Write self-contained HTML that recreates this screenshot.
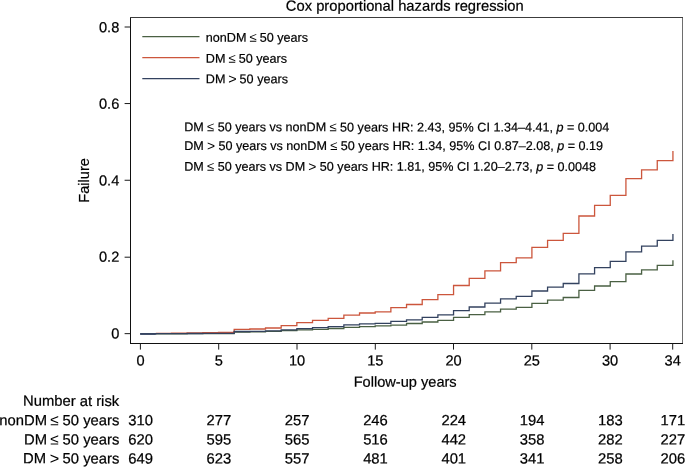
<!DOCTYPE html>
<html lang="en"><head><meta charset="utf-8"><title>Cox proportional hazards regression</title>
<style>
html,body{margin:0;padding:0;background:#fff;}
body{width:685px;height:467px;overflow:hidden;}
svg{display:block;}
text{font-family:"Liberation Sans",Arial,Helvetica,sans-serif;fill:#000;stroke:#000;stroke-width:0.22px;}
.t{font-size:14.6px;}
.tt{font-size:14.75px;}
.s{font-size:12.6px;stroke-width:0.2px;}
.l{font-size:12.62px;stroke-width:0.2px;}
.r{font-size:14.8px;}
.ax{stroke-width:1;fill:none;}
.tk{stroke:#1a1a1a;stroke-width:1;fill:none;}
.c{fill:none;stroke-width:1.3;stroke-linejoin:miter;}
.le{stroke:none;}
</style></head><body>
<svg width="685" height="467" viewBox="0 0 685 467">
<rect x="0" y="0" width="685" height="467" fill="#fff"/>
<g transform="translate(404.70 10.80) matrix(1 0.0005 0 1 0 0)"><text class="tt" text-anchor="middle">Cox proportional hazards regression</text></g>
<path class="ax" stroke="#3c3c3c" d="M130.0 17.5H683.0"/>
<path class="ax" stroke="#6e6e6e" d="M682.5 18.0V343.0"/>
<path class="ax" stroke="#111" d="M130.5 18.0V344.0"/>
<path class="ax" stroke="#111" d="M130.0 343.5H683.0"/>
<path class="tk" d="M124.6 333.65H130.5"/>
<g transform="translate(119.30 338.45) matrix(1 0.0005 0 1 0 0)"><text class="t" text-anchor="end">0</text></g>
<path class="tk" d="M124.6 257.20H130.5"/>
<g transform="translate(119.30 261.70) matrix(1 0.0005 0 1 0 0)"><text class="t" text-anchor="end">0.2</text></g>
<path class="tk" d="M124.6 180.25H130.5"/>
<g transform="translate(119.30 185.40) matrix(1 0.0005 0 1 0 0)"><text class="t" text-anchor="end">0.4</text></g>
<path class="tk" d="M124.6 103.55H130.5"/>
<g transform="translate(119.30 108.70) matrix(1 0.0005 0 1 0 0)"><text class="t" text-anchor="end">0.6</text></g>
<path class="tk" d="M124.6 27.00H130.5"/>
<g transform="translate(119.30 32.30) matrix(1 0.0005 0 1 0 0)"><text class="t" text-anchor="end">0.8</text></g>
<path class="tk" d="M140.4 343.5V349.6"/>
<g transform="translate(140.45 365.60) matrix(1 0.0005 0 1 0 0)"><text class="t" text-anchor="middle">0</text></g>
<path class="tk" d="M218.7 343.5V349.6"/>
<g transform="translate(218.72 365.60) matrix(1 0.0005 0 1 0 0)"><text class="t" text-anchor="middle">5</text></g>
<path class="tk" d="M297.0 343.5V349.6"/>
<g transform="translate(297.00 365.60) matrix(1 0.0005 0 1 0 0)"><text class="t" text-anchor="middle">10</text></g>
<path class="tk" d="M375.3 343.5V349.6"/>
<g transform="translate(375.27 365.60) matrix(1 0.0005 0 1 0 0)"><text class="t" text-anchor="middle">15</text></g>
<path class="tk" d="M453.5 343.5V349.6"/>
<g transform="translate(453.55 365.60) matrix(1 0.0005 0 1 0 0)"><text class="t" text-anchor="middle">20</text></g>
<path class="tk" d="M531.8 343.5V349.6"/>
<g transform="translate(531.83 365.60) matrix(1 0.0005 0 1 0 0)"><text class="t" text-anchor="middle">25</text></g>
<path class="tk" d="M610.1 343.5V349.6"/>
<g transform="translate(610.10 365.60) matrix(1 0.0005 0 1 0 0)"><text class="t" text-anchor="middle">30</text></g>
<path class="tk" d="M672.7 343.5V349.6"/>
<g transform="translate(672.72 365.60) matrix(1 0.0005 0 1 0 0)"><text class="t" text-anchor="middle">34</text></g>
<g transform="translate(405.15 386.70) matrix(1 0.0005 0 1 0 0)"><text class="t" text-anchor="middle">Follow-up years</text></g>
<text class="t" transform="translate(88.7 180.4) rotate(-90) scale(1 1.035)" text-anchor="middle">Failure</text>
<path class="c" stroke="#4a6043" d="M155.82 333.90V333.90H171.49V333.80H187.16V333.70H202.83V333.60H218.50V333.50H234.17V332.00H249.84V331.90H265.51V331.40H281.18V330.60H296.85V329.90H312.52V329.30H328.19V328.50H343.86V327.30H359.53V326.70H375.20V325.90H390.87V325.10H406.54V323.50H422.21V322.00H437.88V320.30H453.55V317.30H469.22V314.70H484.89V311.90H500.56V309.10H516.23V307.30H531.90V303.30H547.57V300.20H563.24V297.50H578.91V290.30H594.58V286.00H610.25V281.60H625.92V274.00H641.59V269.80H657.26V265.40H672.93V260.30"/>
<path class="c" stroke="#cc563c" d="M155.82 333.40V333.40H171.49V333.10H187.16V332.80H202.83V332.60H218.50V332.40H234.17V329.30H249.84V329.00H265.51V328.00H281.18V325.60H296.85V322.60H312.52V320.30H328.19V318.40H343.86V315.20H359.53V313.00H375.20V311.80H390.87V307.70H406.54V304.50H422.21V299.60H437.88V294.60H453.55V285.50H469.22V278.30H484.89V270.80H500.56V262.60H516.23V257.90H531.90V247.30H547.57V240.40H563.24V233.40H578.91V216.00H594.58V205.30H610.25V195.30H625.92V178.70H641.59V169.90H657.26V160.70H672.93V151.00"/>
<path class="c" stroke="#33425f" d="M140.15 333.90V333.90H155.82V333.70H171.49V333.60H187.16V333.50H202.83V333.40H218.50V333.30H234.17V331.50H249.84V331.40H265.51V330.80H281.18V329.90H296.85V328.70H312.52V327.60H328.19V326.60H343.86V324.80H359.53V323.80H375.20V323.30H390.87V321.30H406.54V319.90H422.21V317.40H437.88V314.90H453.55V310.70H469.22V307.00H484.89V303.20H500.56V298.90H516.23V296.30H531.90V291.00H547.57V287.20H563.24V283.50H578.91V273.80H594.58V267.70H610.25V261.40H625.92V251.80H641.59V246.10H657.26V240.40H672.93V233.90"/>
<path class="c" stroke="#33425f" style="stroke-width:1.8" d="M140.15 333.95H155.82"/>
<path class="c" stroke="#4a6043" d="M142.3 36.7H199.5"/>
<g transform="translate(205.80 41.65) matrix(1 0.0005 0 1 0 0)"><text class="l">nonDM <tspan class="le" dx="-0.50" font-size="104%">≤</tspan><tspan dx="-0.50"> </tspan>50 years</text></g>
<path class="c" stroke="#cc563c" d="M142.3 57.7H199.5"/>
<g transform="translate(205.80 62.65) matrix(1 0.0005 0 1 0 0)"><text class="l">DM <tspan class="le" dx="-0.50" font-size="104%">≤</tspan><tspan dx="-0.50"> </tspan>50 years</text></g>
<path class="c" stroke="#33425f" d="M142.3 78.6H199.5"/>
<g transform="translate(205.80 83.20) matrix(1 0.0005 0 1 0 0)"><text class="l">DM <tspan class="le" dx="-0.70" dy="0.50" font-size="114%">&gt;</tspan><tspan dx="-0.55" dy="-0.50"> </tspan>50 years</text></g>
<g transform="translate(184.20 131.30) matrix(1 0.0005 0 1 0 0)"><text class="s">DM <tspan class="le" dx="-0.20" font-size="104%">≤</tspan><tspan dx="-0.08"> </tspan>50 years vs nonDM <tspan class="le" dx="-0.20" font-size="104%">≤</tspan><tspan dx="-0.08"> </tspan>50 years HR: 2.43, 95% CI 1.34–4.41, <tspan font-style="italic">p</tspan> = 0.004</text></g>
<g transform="translate(184.20 149.90) matrix(1 0.0005 0 1 0 0)"><text class="s">DM <tspan class="le" dx="-0.34" dy="0.50" font-size="110%">&gt;</tspan><tspan dx="-0.10" dy="-0.50"> </tspan>50 years vs nonDM <tspan class="le" dx="-0.20" font-size="104%">≤</tspan><tspan dx="-0.08"> </tspan>50 years HR: 1.34, 95% CI 0.87–2.08, <tspan font-style="italic">p</tspan> = 0.19</text></g>
<g transform="translate(184.20 170.70) matrix(1 0.0005 0 1 0 0)"><text class="s">DM <tspan class="le" dx="-0.20" font-size="104%">≤</tspan><tspan dx="-0.08"> </tspan>50 years vs DM <tspan class="le" dx="-0.34" dy="0.50" font-size="110%">&gt;</tspan><tspan dx="-0.10" dy="-0.50"> </tspan>50 years HR: 1.81, 95% CI 1.20–2.73, <tspan font-style="italic">p</tspan> = 0.0048</text></g>
<g transform="translate(119.20 405.90) matrix(1 0.0005 0 1 0 0)"><text class="r" text-anchor="end">Number at risk</text></g>
<g transform="translate(119.35 425.20) matrix(1 0.0005 0 1 0 0)"><text class="r" text-anchor="end">nonDM <tspan class="le" dx="-0.80" font-size="104%">≤</tspan><tspan dx="-0.30"> </tspan>50 years</text></g>
<g transform="translate(140.65 425.20) matrix(1 0.0005 0 1 0 0)"><text class="r" text-anchor="middle">310</text></g>
<g transform="translate(218.92 425.20) matrix(1 0.0005 0 1 0 0)"><text class="r" text-anchor="middle">277</text></g>
<g transform="translate(297.20 425.20) matrix(1 0.0005 0 1 0 0)"><text class="r" text-anchor="middle">257</text></g>
<g transform="translate(375.47 425.20) matrix(1 0.0005 0 1 0 0)"><text class="r" text-anchor="middle">246</text></g>
<g transform="translate(453.75 425.20) matrix(1 0.0005 0 1 0 0)"><text class="r" text-anchor="middle">224</text></g>
<g transform="translate(532.03 425.20) matrix(1 0.0005 0 1 0 0)"><text class="r" text-anchor="middle">194</text></g>
<g transform="translate(610.30 425.20) matrix(1 0.0005 0 1 0 0)"><text class="r" text-anchor="middle">183</text></g>
<g transform="translate(672.92 425.20) matrix(1 0.0005 0 1 0 0)"><text class="r" text-anchor="middle">171</text></g>
<g transform="translate(119.35 444.50) matrix(1 0.0005 0 1 0 0)"><text class="r" text-anchor="end">DM <tspan class="le" dx="-0.80" font-size="104%">≤</tspan><tspan dx="-0.30"> </tspan>50 years</text></g>
<g transform="translate(140.65 444.50) matrix(1 0.0005 0 1 0 0)"><text class="r" text-anchor="middle">620</text></g>
<g transform="translate(218.92 444.50) matrix(1 0.0005 0 1 0 0)"><text class="r" text-anchor="middle">595</text></g>
<g transform="translate(297.20 444.50) matrix(1 0.0005 0 1 0 0)"><text class="r" text-anchor="middle">565</text></g>
<g transform="translate(375.47 444.50) matrix(1 0.0005 0 1 0 0)"><text class="r" text-anchor="middle">516</text></g>
<g transform="translate(453.75 444.50) matrix(1 0.0005 0 1 0 0)"><text class="r" text-anchor="middle">442</text></g>
<g transform="translate(532.03 444.50) matrix(1 0.0005 0 1 0 0)"><text class="r" text-anchor="middle">358</text></g>
<g transform="translate(610.30 444.50) matrix(1 0.0005 0 1 0 0)"><text class="r" text-anchor="middle">282</text></g>
<g transform="translate(672.92 444.50) matrix(1 0.0005 0 1 0 0)"><text class="r" text-anchor="middle">227</text></g>
<g transform="translate(119.35 463.40) matrix(1 0.0005 0 1 0 0)"><text class="r" text-anchor="end">DM <tspan class="le" dx="-0.40" dy="0.70" font-size="110%">&gt;</tspan><tspan dx="-0.80" dy="-0.70"> </tspan>50 years</text></g>
<g transform="translate(140.65 463.40) matrix(1 0.0005 0 1 0 0)"><text class="r" text-anchor="middle">649</text></g>
<g transform="translate(218.92 463.40) matrix(1 0.0005 0 1 0 0)"><text class="r" text-anchor="middle">623</text></g>
<g transform="translate(297.20 463.40) matrix(1 0.0005 0 1 0 0)"><text class="r" text-anchor="middle">557</text></g>
<g transform="translate(375.47 463.40) matrix(1 0.0005 0 1 0 0)"><text class="r" text-anchor="middle">481</text></g>
<g transform="translate(453.75 463.40) matrix(1 0.0005 0 1 0 0)"><text class="r" text-anchor="middle">401</text></g>
<g transform="translate(532.03 463.40) matrix(1 0.0005 0 1 0 0)"><text class="r" text-anchor="middle">341</text></g>
<g transform="translate(610.30 463.40) matrix(1 0.0005 0 1 0 0)"><text class="r" text-anchor="middle">258</text></g>
<g transform="translate(672.92 463.40) matrix(1 0.0005 0 1 0 0)"><text class="r" text-anchor="middle">206</text></g>
</svg>
</body></html>
